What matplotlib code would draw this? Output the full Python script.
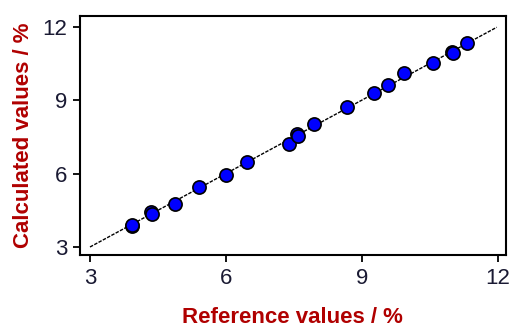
import matplotlib
matplotlib.use("Agg")
import matplotlib.pyplot as plt

plt.rcParams['font.family'] = ['Liberation Sans', 'DejaVu Sans']

ref_values = [3.93, 3.93, 4.35, 4.36, 4.88, 5.40, 6.00, 6.47, 7.39, 7.58, 7.60, 7.94,
              8.68, 9.28, 9.59, 9.93, 10.58, 11.00, 11.01, 11.32]
calc_values = [3.85, 3.90, 4.43, 4.35, 4.74, 5.46, 5.94, 6.46, 7.21, 7.62, 7.55, 8.02,
               8.73, 9.30, 9.62, 10.12, 10.50, 10.97, 10.91, 11.32]
line_x = [3.0, 11.98]
line_y = [3.0, 11.98]
ticks = [3, 6, 9, 12]

fig = plt.figure(figsize=(5.13, 3.27), dpi=100)
ax = fig.add_axes([0.156, 0.220, 0.830, 0.731])

ax.plot(line_x, line_y, color='black', lw=1.0, ls=(0, (2.5, 1)), zorder=1)
ax.plot(ref_values, calc_values, 'o', color='#0000ff', markeredgecolor='black',
        markeredgewidth=1.2, markersize=9.5, zorder=2)

ax.set_xlim(2.78, 12.18)
ax.set_ylim(2.67, 12.44)
ax.set_xticks(ticks)
ax.set_yticks(ticks)
ax.set_xticklabels([str(t) for t in ticks])
ax.set_yticklabels([str(t) for t in ticks])
ax.tick_params(direction='out', length=5, width=1.3, labelsize=16, colors='black',
               labelcolor='#1a1a33', pad=4)
for s in ax.spines.values():
    s.set_linewidth(1.5)

ax.set_xlabel('Reference values / %', fontsize=16, fontweight='bold', color='#b00000', labelpad=13)
ax.set_ylabel('Calculated values / %', fontsize=16, fontweight='bold', color='#b00000', labelpad=6)

fig.savefig('out.png', dpi=100)
